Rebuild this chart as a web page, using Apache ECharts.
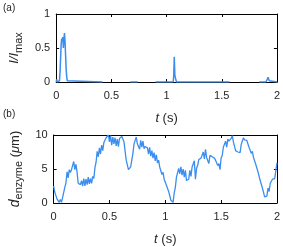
<!DOCTYPE html>
<html><head><meta charset="utf-8">
<script src="https://cdn.jsdelivr.net/npm/echarts@6/dist/echarts.min.js"></script>
<style>html,body{margin:0;padding:0;background:#fff}#c{width:283px;height:247px}</style>
</head><body><div id="c"></div>
<script>
// Panel (a): normalized intensity I/Imax vs time (s); null = no sample
var topT = [0,0.005,0.01,0.02,0.03,0.035,0.04,0.045,0.05,0.055,0.06,0.065,0.07,0.075,0.08,0.085,0.09,0.095,0.1,0.105,0.11,0.42,0.425,0.67,0.74,0.745,0.9,1.06,1.065,1.07,1.075,1.08,1.085,1.09,1.095,1.1,1.57,1.575,1.84,1.9,1.91,1.915,1.92,1.925,1.93,1.94,2];
var topV = [0,0.04,0,0,0.02,0.15,0.35,0.55,0.64,0.6,0.66,0.5,0.62,0.72,0.6,0.4,0.2,0.08,0.02,0,0,0,null,0,0,null,0,0,0.1,0.37,0.1,0.06,0.03,0,0.02,0,0,null,0,0,0.03,0.05,0.07,0.05,0.02,0,0];
// Panel (b): enzyme distance (um), sampled every 0.01 s from t = 0 to 2
var dStep = 0.01;
var dV = [2.5,1.6,1.5,0.6,0.7,0.1,0.5,0.1,0.8,0.9,
2.3,2.9,4.6,3.7,4.9,4.5,4.9,5.0,6.1,4.9,
5.7,4.5,2.9,2.8,2.7,3.3,2.5,3.6,2.5,3.5,
2.7,3.8,2.8,3.6,2.9,3.9,3.6,5.2,6.0,7.6,
6.8,8.1,7.2,8.5,7.7,8.9,8.7,9.6,9.5,10.0,
9.0,9.9,8.5,9.7,8.7,9.6,8.4,9.4,8.3,9.5,
9.4,9.8,9.7,9.0,8.9,6.3,6.1,4.9,5.1,5.3,
5.5,7.3,8.7,8.6,9.7,8.7,8.7,7.9,9.2,8.2,
9.1,8.0,8.3,8.1,8.1,7.2,8.2,6.9,7.7,6.6,
7.4,6.2,7.1,5.9,6.3,5.3,5.3,4.2,4.5,3.5,
3.6,2.6,2.7,1.7,1.6,0.4,0.5,0.1,1.5,2.3,
3.8,4.0,5.1,4.3,5.3,4.1,5.0,3.8,4.8,3.3,
3.5,3.5,4.8,3.9,5.3,5.3,6.2,3.5,5.1,5.5,
6.4,6.3,6.6,6.6,7.5,6.5,7.9,6.7,6.7,5.8,
7.0,6.8,6.8,6.6,6.6,6.3,6.5,5.5,5.8,4.9,
6.6,7.0,8.2,8.1,9.1,8.2,9.4,9.1,9.3,9.5,
9.9,9.0,9.1,7.7,7.6,7.5,7.7,7.4,8.6,8.6,
9.6,9.3,9.5,9.2,9.1,8.2,8.3,7.3,7.6,6.7,
6.7,5.7,5.9,4.6,4.7,3.3,3.3,2.2,2.1,0.9,
1.1,1.0,2.2,1.7,2.9,2.7,3.5,3.3,3.6,3.7,
5.9];

var topData = topT.map(function(t,i){return [t, topV[i]];});
var dData = dV.map(function(v,i){return [+(i*dStep).toFixed(2), v];});

var FONT = 'Liberation Sans';
var TXT = '#262626';
var BLUE = '#3a8ef0';
function xAx(grid, pos, labels){
  return {type:'value', gridIndex:grid, position:pos, min:0, max:2, interval:0.5,
    axisLine:{show:true, onZero:false, lineStyle:{color:'#000', width:1}},
    axisTick:{show:true, inside:true, length:3, lineStyle:{color:'#000'}},
    axisLabel:{show:labels, color:TXT, fontFamily:FONT, fontSize:11, margin:8,
      formatter:function(v){return String(v);}},
    splitLine:{show:false},
    name: labels ? '{it|t} (s)' : '', nameLocation:'middle', nameGap:30,
    nameTextStyle:{color:TXT, fontFamily:FONT, fontSize:13,
      rich:{it:{fontStyle:'italic', fontFamily:FONT, fontSize:13, color:TXT}}}
  };
}
function yAx(grid, pos, labels, max, interval, name, rich, gap){
  return {type:'value', gridIndex:grid, position:pos, min:0, max:max, interval:interval,
    axisLine:{show:true, onZero:false, lineStyle:{color:'#000', width:1}},
    axisTick:{show:true, inside:true, length:3, lineStyle:{color:'#000'}},
    axisLabel:{show:labels, color:TXT, fontFamily:FONT, fontSize:11, margin:6},
    splitLine:{show:false},
    name: name || '', nameLocation:'middle', nameGap:gap || 20, nameRotate:90,
    nameTextStyle:{color:TXT, fontFamily:FONT, fontSize:13, rich:rich || {}}
  };
}
var chart = echarts.init(document.getElementById('c'), null, {renderer:'canvas'});
chart.setOption({
  animation:false,
  backgroundColor:'#fff',
  grid:[
    {left:46, right:5, top:14, height:68},
    {left:46, right:5, top:135, height:69}
  ],
  xAxis:[xAx(0,'bottom',true), xAx(0,'top',false), xAx(1,'bottom',true), xAx(1,'top',false)],
  yAxis:[
    yAx(0,'left',true,1,0.5,'{it|I/I}{sub|max}',
      {it:{fontStyle:'italic',fontFamily:FONT,fontSize:13,color:TXT},
       sub:{fontFamily:FONT,fontSize:11,color:TXT,verticalAlign:'bottom',padding:[8,0,0,0]}}, 24),
    yAx(0,'right',false,1,0.5),
    yAx(1,'left',true,10,5,'{it|d}{sub|enzyme} ({it2|μ}m)',
      {it:{fontStyle:'italic',fontFamily:FONT,fontSize:14,color:TXT},
       it2:{fontStyle:'italic',fontFamily:FONT,fontSize:13,color:TXT},
       sub:{fontFamily:FONT,fontSize:11,color:TXT,verticalAlign:'bottom',padding:[8,0,0,0]}}, 26),
    yAx(1,'right',false,10,5)
  ],
  series:[
    {type:'line', xAxisIndex:0, yAxisIndex:0, data:topData, showSymbol:false, connectNulls:false,
      lineStyle:{color:BLUE, width:1.5}, z:1},
    {type:'line', xAxisIndex:2, yAxisIndex:2, data:dData, showSymbol:false,
      lineStyle:{color:BLUE, width:1.3}, z:1}
  ],
  graphic:[
    {type:'text', left:3, top:3, style:{text:'(a)', font:'10px "Liberation Sans"', fill:TXT}},
    {type:'text', left:3, top:109, style:{text:'(b)', font:'10px "Liberation Sans"', fill:TXT}}
  ]
});
</script></body></html>
